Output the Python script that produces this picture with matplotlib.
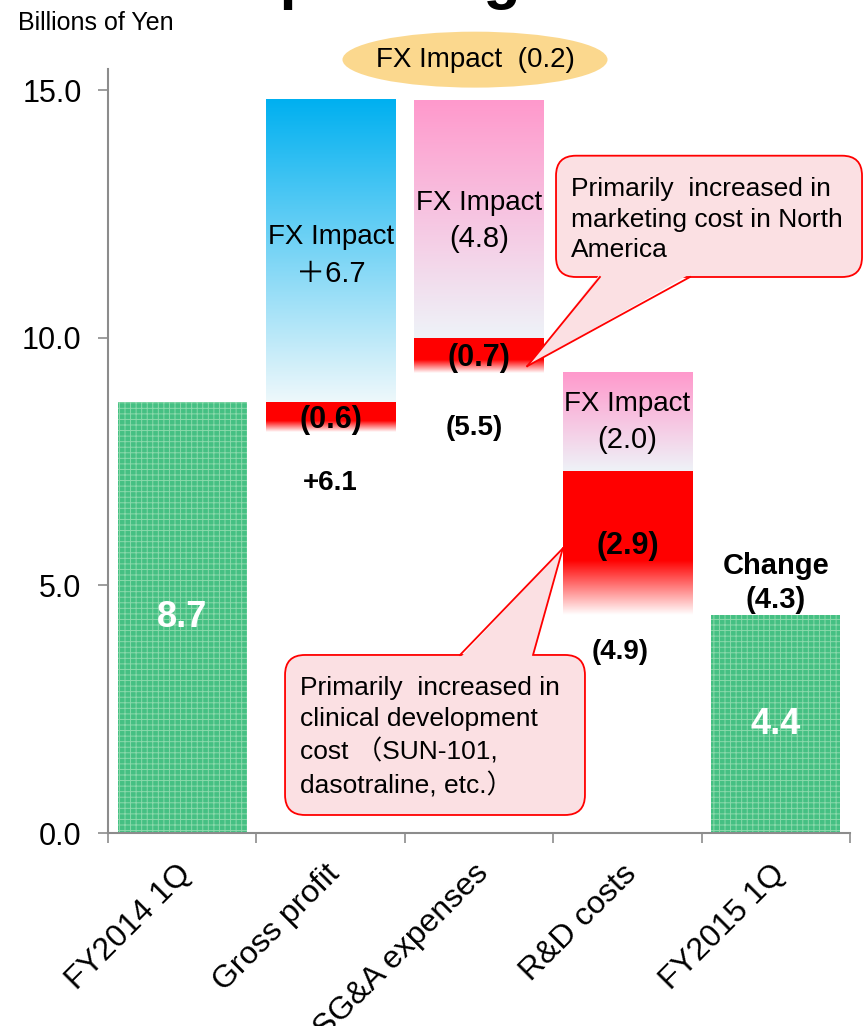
import numpy as np
import matplotlib.pyplot as plt
from matplotlib.patches import Ellipse, FancyBboxPatch, Polygon
from matplotlib.colors import to_rgb
from matplotlib.transforms import ScaledTranslation

plt.rcParams['font.family'] = ['Liberation Sans', 'Noto Sans CJK JP', 'DejaVu Sans']
plt.rcParams['hatch.linewidth'] = 0.7

# data (billions of yen)
categories = ['FY2014 1Q', 'Gross profit', 'SG&A expenses', 'R&D costs', 'FY2015 1Q']
start_value = 8.7
end_value = 4.4
fx_impact = [6.7, -4.8, -2.0]      # gross profit, SG&A, R&D
ex_fx = [-0.6, -0.7, -2.9]
step_total = [6.1, -5.5, -4.9]
fx_total = -0.2
change = -4.3

notes = ['Primarily  increased in\nmarketing cost in North\nAmerica',
         'Primarily  increased in\nclinical development\ncost （SUN-101,\ndasotraline, etc.）']


def fmt(v, plus='+'):
    if v < 0:
        return '(%.1f)' % -v
    return plus + '%.1f' % v


def gradient_bar(ax, x, y0, y1, top_c, bot_c, solid=0.0, w=0.87, z=2):
    t = np.linspace(0, 1, 256)
    f = np.clip((t - solid) / (1 - solid), 0, 1)
    top = np.array(to_rgb(top_c))
    bot = np.array(to_rgb(bot_c))
    img = top[None, :] * (1 - f[:, None]) + bot[None, :] * f[:, None]
    ax.imshow(img[:, None, :], extent=[x - w / 2, x + w / 2, y0, y1],
              origin='upper', aspect='auto', zorder=z, interpolation='bilinear')


fig = plt.figure(figsize=(8.64, 10.26), dpi=100)
ax = fig.add_axes([0.125, 0.1881, 0.8588, 0.7446])

w = 0.87
green = '#45c083'
x = np.arange(len(categories))

# start / end bars
ax.bar([x[0], x[-1]], [start_value, end_value], width=w, color=green,
       hatch='+++', edgecolor='#8ad9ab', linewidth=0, zorder=2)

# waterfall steps
level = start_value
fx_cols = [('#00b0f0', '#eef8fb'), ('#ff99cc', '#eef3f8'), ('#ff99cc', '#eef3f8')]
red_mid = []
low = []
for i in range(3):
    xi = x[i + 1]
    fx, ex = fx_impact[i], ex_fx[i]
    if fx > 0:
        red = (level + ex, level)
        fxseg = (level, level + ex + fx)
        level = level + ex + fx
    else:
        fxseg = (level + fx, level)
        red = (level + fx + ex, level + fx)
        level = level + fx + ex
    low.append(red[0])
    gradient_bar(ax, xi, fxseg[0], fxseg[1], fx_cols[i][0], fx_cols[i][1], w=w)
    gradient_bar(ax, xi, red[0], red[1], '#ff0000', '#ffffff', solid=0.62, w=w, z=3)
    red_mid.append(sum(red) / 2)

ax.set_xlim(-0.5, 4.5)
ax.set_ylim(0, 15.43)

# axes styling
for s in ['top', 'right']:
    ax.spines[s].set_visible(False)
for s in ['left', 'bottom']:
    ax.spines[s].set_color('#8c8c8c')
    ax.spines[s].set_linewidth(1.5)
ax.set_yticks([0, 5, 10, 15])
ax.set_yticklabels(['0.0', '5.0', '10.0', '15.0'])
ax.tick_params(axis='y', length=7, width=1.2, color='#8c8c8c', labelsize=22, pad=12)
ax.set_xticks(np.arange(-0.5, 5, 1))
ax.set_xticklabels([])
ax.tick_params(axis='x', which='major', length=7, width=1.2, color='#8c8c8c')
ax.set_xticks(x, minor=True)
ax.set_xticklabels(categories, minor=True, rotation=45, ha='right', va='center',
                   rotation_mode='anchor', fontsize=23)
ax.tick_params(axis='x', which='minor', length=0, pad=26)
for lab in ax.get_xticklabels(minor=True):
    lab.set_transform(lab.get_transform() + ScaledTranslation(0.05, 0, fig.dpi_scale_trans))

fig.text(18 / 864, 1 - 23 / 1026, 'Billions of Yen', fontsize=18, va='center', ha='left')
fig.text(232 / 864, 1.003, 'Operating Income', fontsize=44, fontweight='bold',
         va='baseline', ha='left')

# labels
ax.text(x[0], start_value / 2, '%.1f' % start_value, color='white', fontsize=26,
        fontweight='bold', ha='center', va='center', zorder=5)
ax.text(x[-1], end_value / 2, '%.1f' % end_value, color='white', fontsize=26,
        fontweight='bold', ha='center', va='center', zorder=5)
ax.text(x[-1], end_value + 0.02, 'Change\n' + fmt(change), fontsize=21,
        fontweight='bold', ha='center', va='bottom', linespacing=1.3, zorder=5)

fx_y = [11.66, 12.36, 8.3]
for i in range(3):
    xi = x[i + 1]
    ax.text(xi, fx_y[i] + 0.37, 'FX Impact', fontsize=20, ha='center', va='center', zorder=5)
    ax.text(xi, fx_y[i] - 0.37, fmt(fx_impact[i], '＋'), fontsize=21, ha='center',
            va='center', zorder=5)
    ax.text(xi, red_mid[i] - 0.05, fmt(ex_fx[i]), fontsize=22, fontweight='bold',
            ha='center', va='center', zorder=5)

total_off = [1.03, 1.12, 0.74]
total_dx = [0.0, -0.03, -0.05]
for i in range(3):
    ax.text(x[i + 1] + total_dx[i], low[i] - total_off[i], fmt(step_total[i]),
            fontsize=20, fontweight='bold', ha='center', va='center', zorder=5)

# FX total ellipse
ax.add_patch(Ellipse((1.973, 15.62), 1.786, 1.13, facecolor='#fbd88e',
                     edgecolor='none', clip_on=False, zorder=4))
ax.text(1.973, 15.62, 'FX Impact  ' + fmt(fx_total), fontsize=20, ha='center',
        va='center', clip_on=False, zorder=5)


def to_in(px, py):
    return fig.dpi_scale_trans.inverted().transform(ax.transData.transform((px, py)))


def callout(x0, x1, y0, y1, bx0, bx1, base_top, tip, text):
    tr = fig.dpi_scale_trans
    fc = '#fbe0e3'
    (a0, b0), (a1, b1) = to_in(x0, y0), to_in(x1, y1)
    ax.add_patch(FancyBboxPatch((a0, b0), a1 - a0, b1 - b0,
                                boxstyle='round,pad=0,rounding_size=0.2',
                                transform=tr, facecolor=fc, edgecolor='red',
                                linewidth=1.3, clip_on=False, zorder=6))
    yb = b1 if base_top else b0
    inset = -0.03 if base_top else 0.03
    p0 = (to_in(bx0, y0)[0], yb)
    p1 = (to_in(bx1, y0)[0], yb)
    tp = to_in(*tip)
    ax.add_patch(Polygon([(p0[0], yb + inset), (p1[0], yb + inset), tp], closed=True,
                         transform=tr, facecolor=fc, edgecolor='none',
                         clip_on=False, zorder=6.5))
    for p in (p0, p1):
        ax.plot([p[0], tp[0]], [p[1], tp[1]], color='red', lw=1.3, transform=tr,
                clip_on=False, zorder=7)
    ax.text(a0 + 0.15, b1 - 0.21, text, transform=tr, fontsize=19, ha='left', va='top',
            linespacing=1.36, clip_on=False, zorder=8)


callout(2.519, 4.581, 11.23, 13.68, 2.815, 3.422, False,
        (x[2] + w / 2 - 0.11, low[1] + 0.13), notes[0])
callout(0.693, 2.714, 0.364, 3.596, 1.872, 2.364, True,
        (x[3] - w / 2, red_mid[2] - 0.1), notes[1])

fig.savefig('out.png', dpi=100)
